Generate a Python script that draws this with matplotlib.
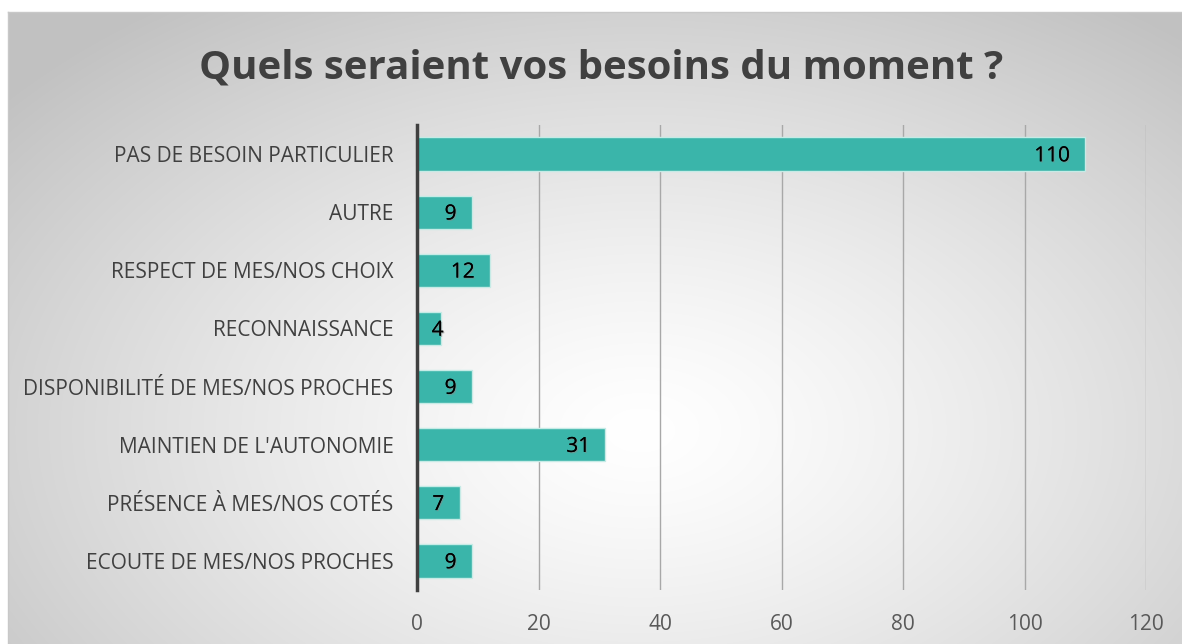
import matplotlib

matplotlib.use("Agg")

import matplotlib.pyplot as plt  # noqa: E402
import matplotlib.patheffects as pe  # noqa: E402
import numpy as np  # noqa: E402

# ── data ──────────────────────────────────────────────────────────────────────

categories = [
    "PAS DE BESOIN PARTICULIER",
    "AUTRE",
    "RESPECT DE MES/NOS CHOIX",
    "RECONNAISSANCE",
    "DISPONIBILITÉ DE MES/NOS PROCHES",
    "MAINTIEN DE L'AUTONOMIE",
    "PRÉSENCE À MES/NOS COTÉS",
    "ECOUTE DE MES/NOS PROCHES",
]
values = [110, 9, 12, 4, 9, 31, 7, 9]
x_ticks = [0, 20, 40, 60, 80, 100, 120]

title = "Quels seraient vos besoins du moment ?"

# ── style ─────────────────────────────────────────────────────────────────────

W, H = 1182, 644
BAR_COLOR = "#3AB5AA"
FONT = "Open Sans"

fig = plt.figure(figsize=(W / 100, H / 100), dpi=100)

# background: radial gradient panel, white figure outside of it
bg = fig.add_axes([0, 0, 1, 1])
bg.set_xlim(0, W)
bg.set_ylim(H, 0)
bg.axis("off")
yy, xx = np.mgrid[0:H, 0:W]
r = np.sqrt(((xx - 640) / 820) ** 2 + ((yy - 430) / 520) ** 2)
shade = 1.0 - 0.24 * np.clip(r, 0, 1) ** 1.3
img = np.dstack([shade, shade, shade])
img[:12, :, :] = 1.0
img[:, :8, :] = 1.0
bg.imshow(img, extent=(0, W, H, 0), interpolation="bilinear", aspect="auto")
bg.plot([8, W], [12, 12], color="#c8c8c8", lw=1)
bg.plot([8, 8], [12, H], color="#c8c8c8", lw=1)

bg.text(601, 68, title, ha="center", va="center", fontsize=29,
        fontweight="bold", color="#404040", family=FONT)

# main axes
ax = fig.add_axes([417 / W, 1 - 590 / H, (1146 - 417) / W, (590 - 125) / H])
ax.patch.set_alpha(0)
y = np.arange(len(categories))
ax.barh(y, values, height=0.57, color=BAR_COLOR, edgecolor="#c6ebe6",
        linewidth=1, zorder=3)
ax.set_ylim(len(categories) - 0.5, -0.5)
ax.set_xlim(0, 120)
ax.set_xticks(x_ticks)
ax.set_yticks(y)
ax.set_yticklabels(categories)
ax.grid(axis="x", color="#a8a8a8", lw=1, zorder=0)
ax.tick_params(length=0, labelsize=15, labelcolor="#404040")
ax.tick_params(axis="y", pad=17)
ax.tick_params(axis="x", pad=17, labelcolor="#595959")
for lab in ax.get_xticklabels() + ax.get_yticklabels():
    lab.set_family(FONT)
for s in ["top", "right", "bottom"]:
    ax.spines[s].set_visible(False)
ax.spines["left"].set_color("#404040")
ax.spines["left"].set_linewidth(2.5)
ax.spines["left"].set_zorder(4)

shadow = [pe.withSimplePatchShadow(offset=(0.8, -0.8), shadow_rgbFace="#888888",
                                   alpha=0.6), pe.Normal()]
for yi, v in zip(y, values):
    ax.text(max(v - 2.5, 4.4), yi + 0.03, str(v), ha="right", va="center",
            fontsize=15, color="black", family=FONT, zorder=5,
            path_effects=shadow)

fig.savefig("out.png", dpi=100)
